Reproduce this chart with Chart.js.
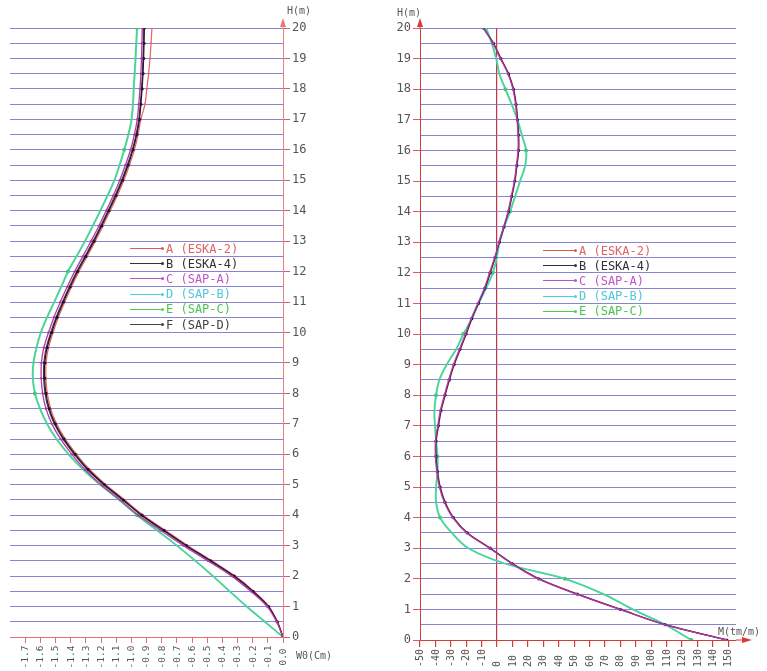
<!DOCTYPE html>
<html>
<head>
<meta charset="utf-8">
<script src="https://cdn.jsdelivr.net/npm/chart.js@4.4.1/dist/chart.umd.min.js"></script>
<style>
    html, body { margin: 0; padding: 0; background: #fff; }
    body { width: 767px; height: 671px; position: relative; overflow: hidden; font-family: 'DejaVu Sans Mono', monospace; }
    canvas { position: absolute; top: 0; }
    #leftChart { left: 0; }
    #rightChart { left: 380px; }
    .lbl { position: absolute; font-size: 10px; color: #555; white-space: nowrap; }
    .legend { position: absolute; font-size: 12px; }
    .legend .row { display: flex; align-items: center; height: 15.2px; white-space: pre; }
    .legend .swatch { display: inline-block; width: 33px; height: 0; border-top: 1px solid currentColor; position: relative; margin-right: 3px; }
    .legend .swatch::after { content: ''; position: absolute; right: -1px; top: -2px; width: 3px; height: 3px; border-radius: 50%; background: currentColor; }
</style>
</head>
<body>
<canvas id="leftChart" width="345" height="671"></canvas>
<canvas id="rightChart" width="387" height="671"></canvas>
<div class="lbl" style="left:287px; top:5px;">H(m)</div>
<div class="lbl" style="left:296px; top:650px;">W0(Cm)</div>
<div class="lbl" style="left:397px; top:7px;">H(m)</div>
<div class="lbl" style="left:718px; top:626px;">M(tm/m)</div>
<div class="legend" id="leftLegend"></div>
<div class="legend" id="rightLegend"></div>
<script>
// Heights along the pile (m), shared by both diagrams
const HEIGHTS = [0, 0.5, 1, 1.5, 2, 2.5, 3, 3.5, 4, 4.5, 5, 5.5, 6, 6.5, 7, 7.5, 8, 8.5, 9, 9.5,
    10, 10.5, 11, 11.5, 12, 12.5, 13, 13.5, 14, 14.5, 15, 15.5, 16, 16.5, 17, 17.5, 18, 18.5, 19, 19.5, 20];

// Left diagram: displacement W0 (cm)
const LEFT_SERIES = ['A (ESKA-2)', 'B (ESKA-4)', 'C (SAP-A)', 'D (SAP-B)', 'E (SAP-C)', 'F (SAP-D)'];
const W_A = [0.000, -0.036, -0.092, -0.192, -0.315, -0.468, -0.627, -0.775, -0.921, -1.043, -1.167, -1.275, -1.361, -1.435,
    -1.493, -1.532, -1.554, -1.563, -1.562, -1.546, -1.516, -1.481, -1.439, -1.394, -1.345, -1.291, -1.237, -1.187, -1.139,
    -1.092, -1.049, -1.012, -0.980, -0.955, -0.937, -0.910, -0.898, -0.886, -0.877, -0.870, -0.864];
const W_B = [0.000, -0.038, -0.096, -0.198, -0.322, -0.476, -0.636, -0.784, -0.930, -1.052, -1.176, -1.284, -1.370, -1.444,
    -1.502, -1.541, -1.563, -1.572, -1.571, -1.555, -1.525, -1.490, -1.448, -1.403, -1.354, -1.300, -1.246, -1.196, -1.148,
    -1.101, -1.058, -1.021, -0.989, -0.964, -0.946, -0.937, -0.929, -0.923, -0.919, -0.916, -0.914];
const W_C = [0.000, -0.042, -0.104, -0.212, -0.338, -0.494, -0.656, -0.806, -0.954, -1.074, -1.200, -1.306, -1.392, -1.466,
    -1.524, -1.563, -1.585, -1.594, -1.593, -1.577, -1.546, -1.510, -1.468, -1.423, -1.374, -1.320, -1.266, -1.214, -1.166,
    -1.119, -1.076, -1.039, -1.005, -0.980, -0.961, -0.951, -0.943, -0.937, -0.933, -0.930, -0.928];
const W_D = [0.000, -0.117, -0.236, -0.348, -0.458, -0.574, -0.696, -0.826, -0.958, -1.076, -1.201, -1.314, -1.410, -1.490,
    -1.552, -1.599, -1.632, -1.646, -1.642, -1.622, -1.593, -1.552, -1.505, -1.459, -1.414, -1.358, -1.302, -1.251, -1.201,
    -1.153, -1.108, -1.074, -1.043, -1.016, -0.995, -0.986, -0.981, -0.975, -0.969, -0.964, -0.959];
const W_E = [0.000, -0.120, -0.240, -0.352, -0.462, -0.578, -0.700, -0.830, -0.962, -1.080, -1.205, -1.318, -1.414, -1.494,
    -1.556, -1.603, -1.636, -1.650, -1.646, -1.626, -1.597, -1.556, -1.509, -1.463, -1.418, -1.362, -1.306, -1.255, -1.205,
    -1.157, -1.112, -1.078, -1.047, -1.020, -0.999, -0.990, -0.985, -0.979, -0.973, -0.968, -0.963];
const W_F = [0.000, -0.039, -0.098, -0.201, -0.326, -0.480, -0.641, -0.790, -0.936, -1.058, -1.182, -1.290, -1.376, -1.450,
    -1.508, -1.547, -1.569, -1.578, -1.577, -1.561, -1.531, -1.496, -1.454, -1.409, -1.360, -1.306, -1.252, -1.202, -1.154,
    -1.107, -1.064, -1.027, -0.994, -0.969, -0.951, -0.941, -0.933, -0.927, -0.923, -0.920, -0.918];

// Right diagram: bending moment M (tm/m)
const RIGHT_SERIES = ['A (ESKA-2)', 'B (ESKA-4)', 'C (SAP-A)', 'D (SAP-B)', 'E (SAP-C)'];
const M_A = [149.5, 109.5, 80.5, 52.5, 27.5, 10.0, -4.3, -19.0, -28.2, -33.6, -36.8, -38.5, -39.4, -39.4, -37.9, -36.2,
    -33.6, -30.8, -27.7, -23.8, -19.9, -16.2, -11.9, -7.6, -4.3, -1.1, 1.7, 4.7, 7.6, 9.7, 11.7, 13.0, 14.1, 14.1, 13.4,
    12.5, 10.8, 7.6, 2.6, -2.2, -8.7];
const M_B = [149.0, 109.0, 80.0, 52.0, 27.0, 9.7, -4.5, -19.3, -28.4, -33.8, -37.0, -38.7, -39.6, -39.6, -38.1, -36.4,
    -33.8, -31.0, -27.9, -24.0, -20.1, -16.4, -12.1, -7.8, -4.5, -1.3, 1.5, 4.5, 7.4, 9.5, 11.5, 12.8, 13.9, 13.9, 13.2,
    12.3, 10.6, 7.4, 2.4, -2.4, -8.9];
const M_C = [148.5, 108.7, 79.6, 51.6, 26.6, 9.3, -4.9, -19.7, -28.8, -34.2, -37.4, -39.1, -40.0, -40.0, -38.5, -36.8,
    -34.2, -31.4, -28.3, -24.4, -20.5, -16.8, -12.5, -8.2, -4.9, -1.6, 1.2, 4.2, 7.1, 9.2, 11.2, 12.5, 13.6, 13.6, 12.9,
    12.0, 10.3, 7.1, 2.1, -2.7, -9.1];
const M_D = [126.5, 109.3, 88.4, 69.3, 44.2, 5.3, -18.3, -29.1, -36.7, -39.3, -39.3, -38.4, -38.4, -39.3, -40.0, -40.4,
    -39.3, -37.2, -32.4, -26.3, -21.6, -16.1, -11.8, -6.8, -2.5, 0.1, 1.8, 4.8, 8.7, 12.0, 15.2, 18.5, 19.1, 16.3, 13.5,
    9.8, 5.7, 1.8, -0.3, -3.2, -6.8];
const M_E = [126.0, 109.0, 88.0, 69.0, 44.0, 5.0, -18.6, -29.4, -37.0, -39.6, -39.6, -38.7, -38.7, -39.6, -40.3, -40.7,
    -39.6, -37.5, -32.7, -26.6, -21.9, -16.4, -12.1, -7.1, -2.8, -0.2, 1.5, 4.5, 8.4, 11.7, 14.9, 18.2, 18.8, 16.0, 13.2,
    9.5, 5.4, 1.5, -0.6, -3.5, -7.1];

// Tick labels
const W_TICKS = [-1.7, -1.6, -1.5, -1.4, -1.3, -1.2, -1.1, -1.0, -0.9, -0.8, -0.7, -0.6, -0.5, -0.4, -0.3, -0.2, -0.1, 0.0];
const M_TICKS = [-50, -40, -30, -20, -10, 0, 10, 20, 30, 40, 50, 60, 70, 80, 90, 100, 110, 120, 130, 140, 150];

const STYLE = {
    A: { line: 'rgb(228,100,100)', text: '#e06464', width: 1.2, order: 7, radius: 1 },
    B: { line: 'rgb(40,20,40)', text: '#333333', width: 1.2, order: 2, radius: 1.6 },
    C: { line: 'rgb(175,60,175)', text: '#c653cc', width: 1.3, order: 1, radius: 1.2 },
    D: { line: 'rgba(70,205,235,0.55)', text: '#52c6de', width: 1.2, order: 4, radius: 0 },
    E: { line: 'rgb(80,215,110)', text: '#4cc454', width: 1.8, order: 5, radius: 0 },
    F: { line: 'rgb(70,60,70)', text: '#444444', width: 1.2, order: 3, radius: 0 }
};
const LEGEND_LINE = { A: '#e05a5a', B: '#333', C: '#c050c8', D: '#50cce0', E: '#4cd04c', F: '#444' };

const GRID = 'rgba(115,110,200,0.85)';

function pts(vals) {
    return HEIGHTS.map((h, i) => ({ x: vals[i], y: h }));
}

function makeDatasets(names, values, dotEvery) {
    return names.map((name, i) => {
        const key = name[0];
        const s = STYLE[key];
        return {
            label: name,
            data: pts(values[i]),
            showLine: true,
            borderColor: s.line,
            backgroundColor: key === 'E' ? 'rgb(60,200,100)' : s.line,
            borderWidth: s.width,
            tension: 0.35,
            order: s.order,
            pointRadius: key === 'E' ? (c => (c.raw && c.raw.y % dotEvery === 0 ? 2 : 0)) : s.radius,
            pointBorderWidth: 0,
            pointHoverRadius: 0
        };
    });
}

// rotated x labels + axis arrows
const axisDecor = {
    id: 'axisDecor',
    afterDraw(chart, args, opts) {
        const { ctx, chartArea, scales } = chart;
        const xs = scales.x;
        ctx.save();
        ctx.fillStyle = '#555';
        ctx.font = opts.font;
        ctx.textBaseline = 'middle';
        xs.ticks.forEach(t => {
            const px = xs.getPixelForValue(t.value);
            ctx.save();
            ctx.translate(px + 0.5, opts.labelY);
            ctx.rotate(-Math.PI / 2);
            ctx.textAlign = opts.align;
            ctx.fillText(t.value.toFixed(opts.decimals), 0, 0);
            ctx.restore();
        });

        ctx.strokeStyle = opts.axisColor;
        ctx.fillStyle = opts.axisColor;
        ctx.lineWidth = 1;
        const ax = opts.yRight ? chartArea.right : chartArea.left;
        ctx.beginPath();
        ctx.moveTo(ax, chartArea.top);
        ctx.lineTo(ax, chartArea.top - 6);
        ctx.stroke();
        ctx.beginPath();
        ctx.moveTo(ax, chartArea.top - 10);
        ctx.lineTo(ax - 3, chartArea.top - 1);
        ctx.lineTo(ax + 3, chartArea.top - 1);
        ctx.closePath();
        ctx.fill();

        if (opts.xArrow) {
            const y = chartArea.bottom;
            const end = chartArea.right + opts.xArrow;
            ctx.beginPath();
            ctx.moveTo(chartArea.right, y);
            ctx.lineTo(end - 6, y);
            ctx.stroke();
            ctx.beginPath();
            ctx.moveTo(end, y);
            ctx.lineTo(end - 10, y - 3);
            ctx.lineTo(end - 10, y + 3);
            ctx.closePath();
            ctx.fill();
        }
        ctx.restore();
    }
};

const tickFont = { family: 'DejaVu Sans Mono', size: 12 };

function heightAxis(position, width) {
    return {
        type: 'linear',
        position,
        min: 0,
        max: 20,
        afterBuildTicks: s => { s.ticks = HEIGHTS.map(v => ({ value: v })); },
        afterFit: s => { s.width = width; },
        grid: {
            color: GRID,
            lineWidth: 1,
            drawTicks: true,
            tickLength: 7,
            tickColor: c => (Number.isInteger(c.tick.value) ? 'rgb(225,90,90)' : 'rgba(0,0,0,0)')
        },
        border: { color: position === 'right' ? 'rgb(235,130,130)' : 'rgb(215,60,60)', width: 1 },
        ticks: {
            autoSkip: false,
            padding: 2,
            color: '#555',
            font: tickFont,
            callback: v => (Number.isInteger(v) ? String(v) : '')
        }
    };
}

Chart.defaults.animation = false;

new Chart(document.getElementById('leftChart'), {
    type: 'scatter',
    data: { datasets: makeDatasets(LEFT_SERIES, [W_A, W_B, W_C, W_D, W_E, W_F], 4) },
    options: {
        responsive: false,
        layout: { padding: { left: 10, top: 28, right: 0, bottom: 0 } },
        plugins: {
            legend: { display: false },
            tooltip: { enabled: false },
            axisDecor: { font: '9.5px "DejaVu Sans Mono"', labelY: 657, align: 'center', decimals: 1, axisColor: 'rgb(235,120,120)', yRight: true, xArrow: 0 }
        },
        scales: {
            x: {
                type: 'linear',
                min: -1.8,
                max: 0,
                afterBuildTicks: s => { s.ticks = W_TICKS.map(v => ({ value: v })); },
                afterFit: s => { s.height = 34; },
                grid: { drawOnChartArea: false, drawTicks: true, tickLength: 6, tickColor: 'rgb(230,110,110)' },
                border: { color: 'rgb(230,110,110)', width: 1 },
                ticks: { display: false }
            },
            y: heightAxis('right', 62)
        }
    },
    plugins: [axisDecor]
});

new Chart(document.getElementById('rightChart'), {
    type: 'scatter',
    data: { datasets: makeDatasets(RIGHT_SERIES, [M_A, M_B, M_C, M_D, M_E], 2) },
    options: {
        responsive: false,
        layout: { padding: { left: 0, top: 28, right: 31, bottom: 0 } },
        plugins: {
            legend: { display: false },
            tooltip: { enabled: false },
            axisDecor: { font: '10px "DejaVu Sans Mono"', labelY: 667, align: 'left', decimals: 0, axisColor: 'rgb(215,60,60)', yRight: false, xArrow: 16 }
        },
        scales: {
            x: {
                type: 'linear',
                min: -50,
                max: 155,
                afterBuildTicks: s => { s.ticks = M_TICKS.map(v => ({ value: v })); },
                afterFit: s => { s.height = 31; },
                grid: {
                    color: c => (c.tick && c.tick.value === 0 ? 'rgb(200,50,70)' : 'rgba(0,0,0,0)'),
                    lineWidth: 1.2,
                    drawTicks: true,
                    tickLength: 7,
                    tickColor: 'rgb(215,60,60)'
                },
                border: { color: 'rgb(215,60,60)', width: 1 },
                ticks: { display: false }
            },
            y: heightAxis('left', 40)
        }
    },
    plugins: [axisDecor]
});

function buildLegend(id, names, left, top) {
    const el = document.getElementById(id);
    el.style.left = left + 'px';
    el.style.top = top + 'px';
    names.forEach(name => {
        const key = name[0];
        const row = document.createElement('div');
        row.className = 'row';
        row.innerHTML = '<span class="swatch" style="color:' + LEGEND_LINE[key] + '"></span>' +
            '<span style="color:' + STYLE[key].text + '">' + name + '</span>';
        el.appendChild(row);
    });
}

buildLegend('leftLegend', LEFT_SERIES, 130, 241);
buildLegend('rightLegend', RIGHT_SERIES, 543, 243);
</script>
</body>
</html>
